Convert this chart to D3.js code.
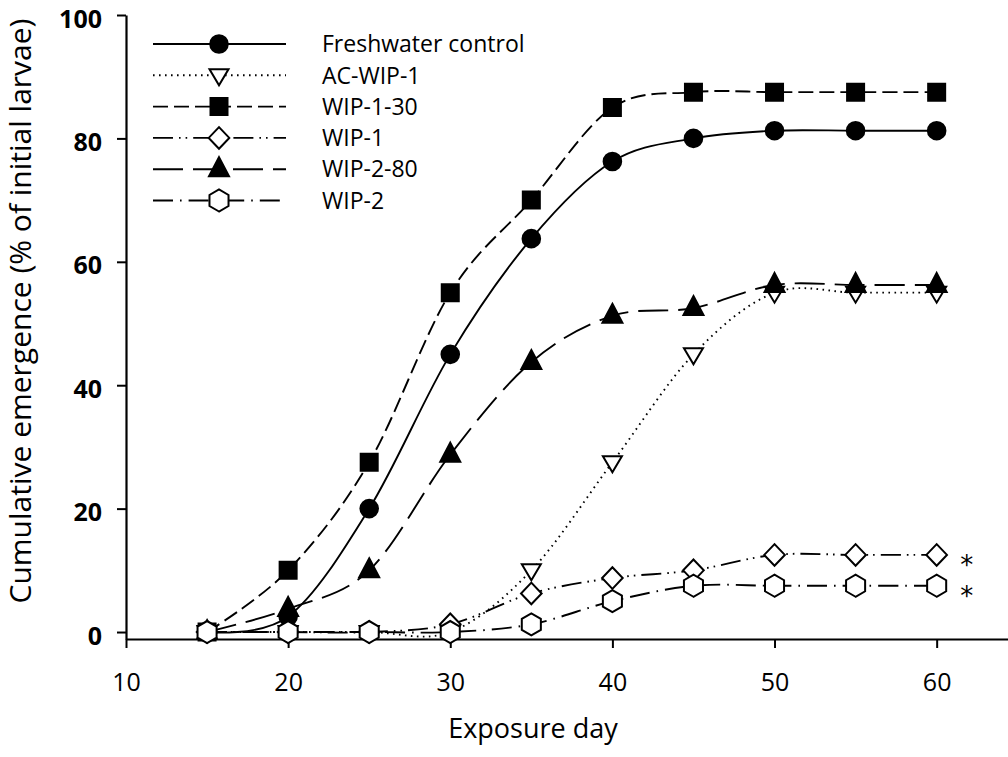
<!DOCTYPE html>
<html>
<head>
<meta charset="utf-8">
<script src="https://cdn.jsdelivr.net/npm/d3@7"></script>
<style>
  body { margin: 0; background: #fff; }
  svg { display: block; }
  text { font-family: "Open Sans", Lato, sans-serif; fill: #000; }
</style>
</head>
<body>
<svg id="chart" width="1008" height="757"></svg>
<script>
// exposure days and cumulative emergence (% of initial larvae)
var days = [15, 20, 25, 30, 35, 40, 45, 50, 55, 60];
var freshwater = [0, 2.5, 20, 45, 63.75, 76.25, 80, 81.25, 81.25, 81.25];
var acWip1 = [0, 0, 0, 0, 10, 27.5, 45, 55, 55, 55];
var wip130 = [0, 10, 27.5, 55, 70, 85, 87.5, 87.5, 87.5, 87.5];
var wip1 = [0, 0, 0, 1.25, 6.25, 8.75, 10, 12.5, 12.5, 12.5];
var wip280 = [0, 3.75, 10, 28.75, 43.75, 51.25, 52.5, 56.25, 56.25, 56.25];
var wip2 = [0, 0, 0, 0, 1.25, 5, 7.5, 7.5, 7.5, 7.5];

var seriesNames = ["Freshwater control", "AC-WIP-1", "WIP-1-30", "WIP-1", "WIP-2-80", "WIP-2"];
var xTicks = [10, 20, 30, 40, 50, 60];
var yTicks = [0, 20, 40, 60, 80, 100];
// series marked significant in the figure
var starred = ["WIP-1", "WIP-2"];

var series = [
  { name: seriesNames[0], values: freshwater, shape: "circle", fill: "#000", dash: null },
  { name: seriesNames[1], values: acWip1, shape: "tridown", fill: "#fff", dash: "1.6,4.4" },
  { name: seriesNames[2], values: wip130, shape: "square", fill: "#000", dash: "15,6" },
  { name: seriesNames[3], values: wip1, shape: "diamond", fill: "#fff", dash: "20,6,1.6,5,1.6,6" },
  { name: seriesNames[4], values: wip280, shape: "triup", fill: "#000", dash: "30,10" },
  { name: seriesNames[5], values: wip2, shape: "hexagon", fill: "#fff", dash: "20,7,1.6,7" }
];

var svg = d3.select("#chart");

var x = d3.scaleLinear().domain([10, 64.4]).range([126, 1008]);
var y = d3.scaleLinear().domain([-1.13, 100]).range([639, 15]);

// marker path around 0,0
function markerPath(shape) {
  var p = d3.path();
  if (shape == "circle") {
    p.arc(0, 0, 8.8, 0, 2 * Math.PI);
  } else if (shape == "square") {
    p.rect(-8.5, -8.5, 17, 17);
  } else if (shape == "triup") {
    p.moveTo(0, -12); p.lineTo(10, 7); p.lineTo(-10, 7); p.closePath();
  } else if (shape == "tridown") {
    p.moveTo(-9.5, -6); p.lineTo(9.5, -6); p.lineTo(0, 10); p.closePath();
  } else if (shape == "diamond") {
    p.moveTo(0, -10.8); p.lineTo(10.3, 0); p.lineTo(0, 10.8); p.lineTo(-10.3, 0); p.closePath();
  } else if (shape == "hexagon") {
    for (var i = 0; i < 6; i++) {
      var a = Math.PI / 2 + i * Math.PI / 3;
      var px = 11 * Math.cos(a), py = 11 * Math.sin(a);
      if (i == 0) p.moveTo(px, py); else p.lineTo(px, py);
    }
    p.closePath();
  }
  return p.toString();
}

// axes
var xAxis = svg.append("g")
  .attr("transform", "translate(0," + y.range()[0] + ")")
  .call(d3.axisBottom(x).tickValues(xTicks).tickSize(9).tickPadding(25).tickSizeOuter(0));
xAxis.selectAll("text")
  .style("font-size", "25px")
  .style("font-family", "'Open Sans'")
  .attr("dy", "0.71em");

var yAxis = svg.append("g")
  .attr("transform", "translate(" + x.range()[0] + ",0)")
  .call(d3.axisLeft(y).tickValues(yTicks).tickSize(9).tickPadding(15).tickSizeOuter(0));
yAxis.selectAll("text")
  .style("font-size", "25px")
  .style("font-family", "'Open Sans'")
  .style("font-weight", "bold")
  .attr("dy", "0.48em");

svg.selectAll(".domain").attr("stroke", "#000").attr("stroke-width", 2.2);
svg.selectAll(".tick line").attr("stroke", "#000").attr("stroke-width", 2);

svg.append("text")
  .attr("x", 533).attr("y", 738)
  .attr("text-anchor", "middle")
  .style("font-size", "27px")
  .text("Exposure day");

svg.append("text")
  .attr("transform", "translate(31,311) rotate(-90)")
  .attr("text-anchor", "middle")
  .style("font-size", "30px")
  .text("Cumulative emergence (% of initial larvae)");

// lines and markers
var line = d3.line()
  .x(function (d) { return x(d.day); })
  .y(function (d) { return y(d.v); })
  .curve(d3.curveCatmullRom.alpha(0));

series.forEach(function (s) {
  var pts = days.map(function (d, i) { return { day: d, v: s.values[i] }; });
  var g = svg.append("g");
  g.append("path")
    .datum(pts)
    .attr("d", line)
    .attr("fill", "none")
    .attr("stroke", "#000")
    .attr("stroke-width", 1.9)
    .attr("stroke-dasharray", s.dash);
  g.selectAll("path.mark")
    .data(pts)
    .enter().append("path")
    .attr("class", "mark")
    .attr("d", markerPath(s.shape))
    .attr("transform", function (d) { return "translate(" + x(d.day) + "," + y(d.v) + ")"; })
    .attr("fill", s.fill)
    .attr("stroke", "#000")
    .attr("stroke-width", 2);
});

// asterisks next to last points
series.filter(function (s) { return starred.indexOf(s.name) >= 0; }).forEach(function (s) {
  var last = s.values[s.values.length - 1];
  svg.append("text")
    .attr("x", x(days[days.length - 1]) + 30)
    .attr("y", y(last) + 19)
    .attr("text-anchor", "middle")
    .style("font-family", "'DejaVu Sans'")
    .style("font-size", "26px")
    .text("*");
});

// legend
var legend = svg.append("g");
series.forEach(function (s, i) {
  var ly = 44 + i * 31.3;
  var row = legend.append("g").attr("transform", "translate(0," + ly + ")");
  row.append("line")
    .attr("x1", 153).attr("x2", 286)
    .attr("stroke", "#000").attr("stroke-width", 1.9)
    .attr("stroke-dasharray", s.dash);
  row.append("path")
    .attr("d", markerPath(s.shape))
    .attr("transform", "translate(219,0)")
    .attr("fill", s.fill)
    .attr("stroke", "#000")
    .attr("stroke-width", 2);
  row.append("text")
    .attr("x", 322).attr("dy", "0.36em")
    .style("font-size", "23px")
    .text(s.name);
});
</script>
</body>
</html>
